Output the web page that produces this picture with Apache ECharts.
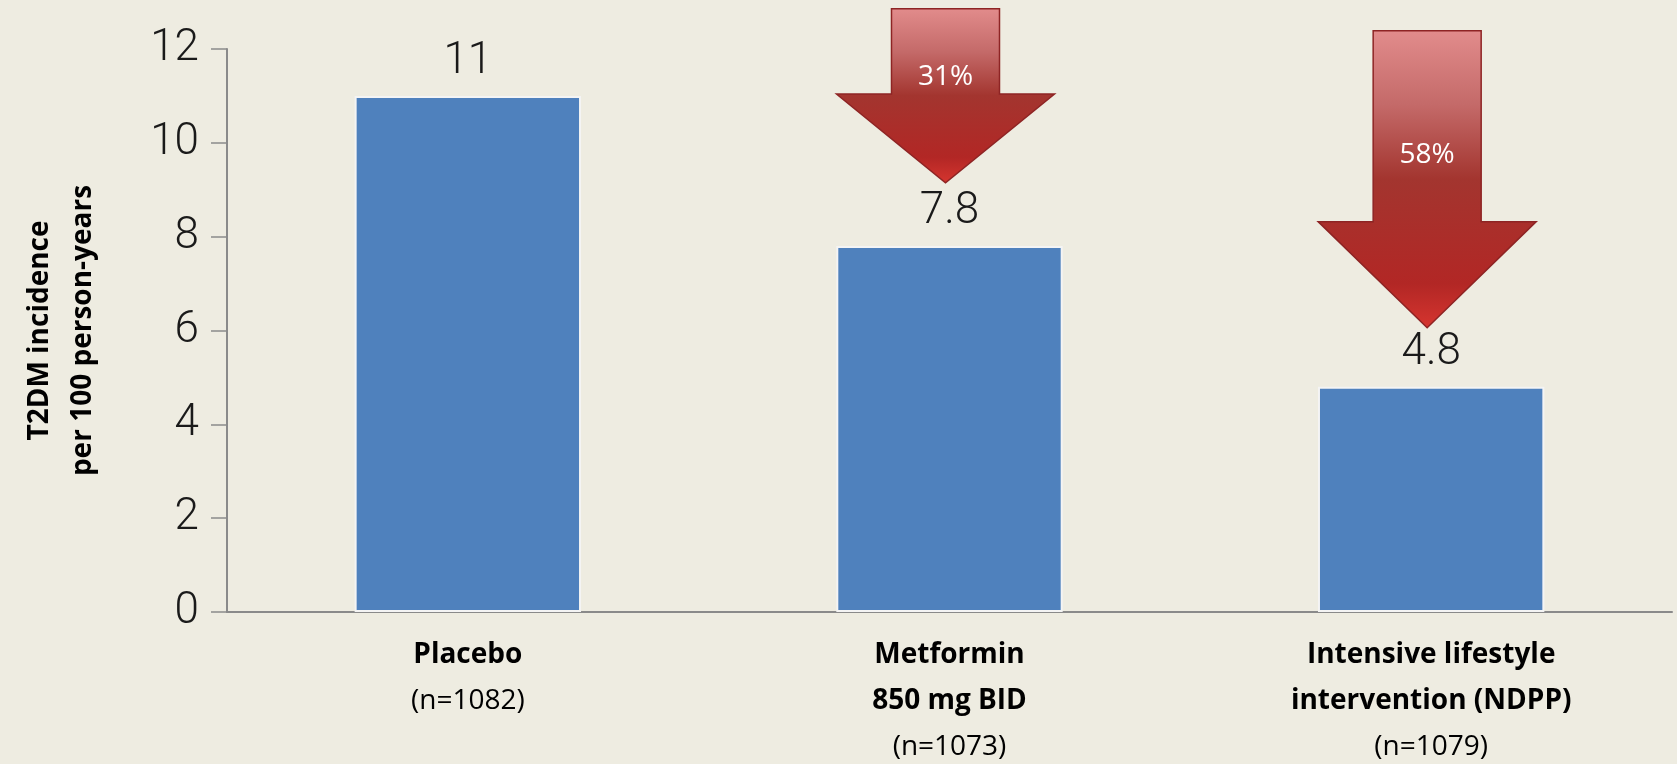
<!DOCTYPE html>
<html>
<head>
<meta charset="utf-8">
<script src="https://cdn.jsdelivr.net/npm/echarts@6/dist/echarts.min.js"></script>
<style>
  html, body { margin: 0; padding: 0; background: #EEECE1; }
  #chart { width: 1677px; height: 764px; }
</style>
</head>
<body>
<div id="chart"></div>
<script>
// groups on the x axis (bold part) and their sample sizes
const groups = ['Placebo', 'Metformin\n850 mg BID', 'Intensive lifestyle\nintervention (NDPP)'];
const sampleSizes = [1082, 1073, 1079];
// T2DM incidence per 100 person-years
const incidence = [11, 7.8, 4.8];

// reduction arrows: category index, top, neck, tip, text level (axis units)
const arrowShapes = [
  [1, 12.86, 11.04, 9.15, 11.41],
  [2, 12.39, 8.32, 6.06, 9.74]
];
const arrowTexts = ['31%', '58%'];

const yTicks = { min: 0, max: 12, interval: 2 };

const chart = echarts.init(document.getElementById('chart'));

const arrowFill = new echarts.graphic.LinearGradient(0, 0, 0, 1, [
  { offset: 0, color: '#E28C8C' },
  { offset: 0.25, color: '#C46A69' },
  { offset: 0.5, color: '#A3352F' },
  { offset: 0.85, color: '#B22725' },
  { offset: 1, color: '#D6352F' }
]);

const option = {
  backgroundColor: '#EEECE1',
  animation: false,
  grid: { left: 227, right: 5, top: 49, bottom: 152 },
  xAxis: {
    type: 'category',
    data: groups,
    axisLine: { lineStyle: { color: '#8A8A8A', width: 2 } },
    axisTick: { inside: true, length: 15, lineStyle: { color: '#8A8A8A', width: 1.5 } },
    axisLabel: {
      margin: 20,
      interval: 0,
      formatter: function (value, idx) {
        const lines = value.split('\n').map(s => '{b|' + s + '}');
        lines.push('{n|(n=' + sampleSizes[idx] + ')}');
        return lines.join('\n');
      },
      rich: {
        b: { fontFamily: 'Open Sans', fontWeight: 'bold', fontSize: 28, color: '#000', lineHeight: 46 },
        n: { fontFamily: 'Open Sans', fontSize: 28, color: '#000', lineHeight: 46 }
      }
    }
  },
  yAxis: {
    type: 'value',
    min: yTicks.min,
    max: yTicks.max,
    interval: yTicks.interval,
    name: 'T2DM incidence\nper 100 person-years',
    nameLocation: 'middle',
    nameGap: 122,
    nameTextStyle: { fontFamily: 'Open Sans', fontWeight: 'bold', fontSize: 28, color: '#000', lineHeight: 43 },
    axisLine: { show: true, lineStyle: { color: '#8A8A8A', width: 2 } },
    axisTick: { show: true, length: 16, lineStyle: { color: '#8A8A8A', width: 1.5 } },
    splitLine: { show: false },
    axisLabel: { margin: 28, fontFamily: 'Roboto', fontWeight: 300, fontSize: 44, color: '#1a1a1a' }
  },
  series: [
    {
      type: 'bar',
      data: incidence,
      barWidth: '47%',
      itemStyle: { color: '#4F81BD', borderColor: '#F4F4F4', borderWidth: 2 },
      label: {
        show: true,
        position: 'top',
        distance: 12,
        fontFamily: 'Roboto',
        fontWeight: 300,
        fontSize: 44,
        color: '#1a1a1a'
      }
    },
    {
      type: 'custom',
      data: arrowShapes,
      z: 5,
      renderItem: function (params, api) {
        const cx = api.coord([api.value(0), 0])[0] - 4;
        const top = api.coord([api.value(0), api.value(1)])[1];
        const neck = api.coord([api.value(0), api.value(2)])[1];
        const tip = api.coord([api.value(0), api.value(3)])[1];
        const textY = api.coord([api.value(0), api.value(4)])[1];
        const sw = 54, hw = 109;
        return {
          type: 'group',
          children: [
            {
              type: 'polygon',
              shape: {
                points: [
                  [cx - sw, top], [cx + sw, top], [cx + sw, neck], [cx + hw, neck],
                  [cx, tip], [cx - hw, neck], [cx - sw, neck]
                ]
              },
              style: { fill: arrowFill, stroke: '#8E2424', lineWidth: 1.5 }
            },
            {
              type: 'text',
              style: {
                text: arrowTexts[params.dataIndex],
                x: cx,
                y: textY,
                align: 'center',
                verticalAlign: 'middle',
                fill: '#fff',
                fontFamily: 'Open Sans',
                fontWeight: 'normal',
                fontSize: 28
              }
            }
          ]
        };
      }
    }
  ]
};

chart.setOption(option);
</script>
</body>
</html>
